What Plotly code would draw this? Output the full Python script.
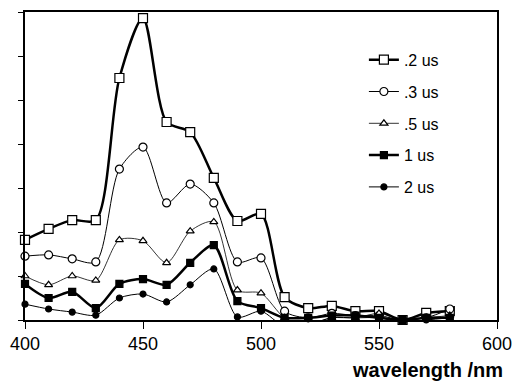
import plotly.graph_objects as go

wavelength = [400, 410, 420, 430, 440, 450, 460, 470, 480, 490, 500, 510, 520, 530, 540, 550, 560, 570, 580]
s_02 = [1.82, 2.07, 2.27, 2.27, 5.5, 6.86, 4.5, 4.27, 3.23, 2.25, 2.41, 0.52, 0.27, 0.32, 0.2, 0.2, 0.0, 0.16, 0.2]
s_03 = [1.45, 1.48, 1.39, 1.32, 3.43, 3.93, 2.66, 3.09, 2.66, 1.32, 1.41, 0.2, 0.05, 0.15, 0.1, 0.1, 0.0, 0.05, 0.25]
s_05 = [1.0, 0.8, 1.0, 0.9, 1.82, 1.8, 1.3, 2.02, 2.23, 0.68, 0.61, 0.05, -0.1, 0.05, 0.05, 0.15, 0.0, 0.05, 0.1]
s_1 = [0.82, 0.5, 0.64, 0.27, 0.82, 0.93, 0.8, 1.3, 1.7, 0.43, 0.27, 0.05, 0.05, 0.1, 0.1, 0.05, 0.0, 0.05, 0.05]
s_2 = [0.36, 0.25, 0.18, 0.11, 0.5, 0.59, 0.41, 0.8, 1.16, 0.07, 0.2, -0.15, -0.1, 0.05, 0.05, 0.05, -0.05, 0.0, 0.05]
names = [".2 us", ".3 us", ".5 us", "1 us", "2 us"]

styles = [
    dict(w=2.5, sym="square", size=9, fill="white"),
    dict(w=1.0, sym="circle", size=8, fill="white"),
    dict(w=0.8, sym="triangle-up", size=7, fill="white"),
    dict(w=2.5, sym="square", size=7, fill="black"),
    dict(w=1.0, sym="circle", size=6, fill="black"),
]

fig = go.Figure()
for i, (name, ys, st) in enumerate(zip(names, [s_02, s_03, s_05, s_1, s_2], styles)):
    fig.add_trace(go.Scatter(
        x=wavelength, y=ys, name=name, mode="lines+markers",
        line=dict(color="black", width=st["w"], shape="spline", smoothing=0.8),
        marker=dict(symbol=st["sym"], size=st["size"], color=st["fill"],
                    line=dict(color="black", width=1.2)),
        legendgroup=str(i), cliponaxis=False,
    ))

fig.update_layout(
    width=514, height=383,
    margin=dict(l=25, r=17, t=12, b=63, autoexpand=False),
    paper_bgcolor="white", plot_bgcolor="white",
    font=dict(family="Liberation Sans, Arial, sans-serif", color="black", size=18),
    showlegend=True,
    legend=dict(x=0.718, y=0.9, xanchor="left", yanchor="top", bgcolor="rgba(0,0,0,0)",
                font=dict(size=16), tracegroupgap=8, itemwidth=30),
    xaxis=dict(range=[400, 600], dtick=50, tick0=400, showgrid=False, zeroline=False,
               showline=True, linecolor="black", linewidth=1.5, mirror=True, automargin=False,
               ticks="outside", ticklen=7, tickcolor="black", tickfont=dict(size=18)),
    yaxis=dict(range=[0, 7], dtick=1, showgrid=False, zeroline=False, showticklabels=False,
               showline=True, linecolor="black", linewidth=1.5, mirror=True, automargin=False,
               ticks="outside", ticklen=5, tickcolor="black"),
    annotations=[dict(text="<b>wavelength /nm</b>", xref="paper", yref="paper", x=1.017, y=-0.162,
                      xanchor="right", yanchor="middle", showarrow=False, font=dict(size=20))],
)

fig.write_html("out.html")
